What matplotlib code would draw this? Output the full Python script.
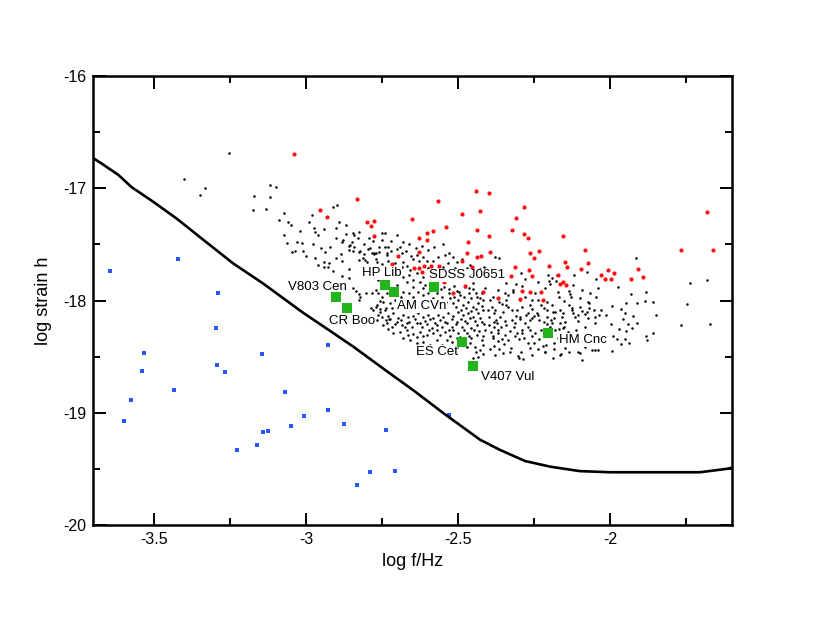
import matplotlib
matplotlib.use("Agg")
import matplotlib.pyplot as plt
from matplotlib.ticker import MultipleLocator, FuncFormatter

plt.rcParams['font.family'] = ['Liberation Sans', 'DejaVu Sans']
plt.rcParams['axes.unicode_minus'] = False

# sensitivity curve
curve_x = [-3.70, -3.666, -3.617, -3.573, -3.502, -3.425, -3.337, -3.239, -3.14, -3.009,
           -2.943, -2.845, -2.724, -2.647, -2.55, -2.428, -2.363, -2.28, -2.198, -2.1,
           -2.0, -1.705, -1.618, -1.6]
curve_y = [-16.73, -16.79, -16.88, -16.99, -17.12, -17.27, -17.46, -17.67, -17.85, -18.11,
           -18.23, -18.41, -18.65, -18.80, -19.0, -19.24, -19.33, -19.43, -19.48, -19.52,
           -19.53, -19.53, -19.50, -19.49]

# blue squares
blue_x = [-3.645, -3.421, -3.288, -3.295, -3.531, -3.539, -3.291, -3.265, -3.145, -2.929,
          -3.435, -3.574, -3.597, -3.068, -3.005, -2.929, -3.049, -2.874, -3.140, -3.126,
          -2.736, -3.227, -3.161, -2.790, -2.831, -2.707, -2.530]
blue_y = [-17.734, -17.630, -17.935, -18.247, -18.470, -18.627, -18.576, -18.635, -18.478, -18.396,
          -18.794, -18.889, -19.070, -18.817, -19.028, -18.977, -19.114, -19.096, -19.173, -19.164,
          -19.155, -19.328, -19.283, -19.529, -19.642, -19.518, -19.019]

# red dots
red_x = [-3.039, -2.831, -2.953, -2.932, -2.798, -2.775, -2.785, -2.777, -2.651, -2.567,
         -2.442, -2.398, -2.487, -2.429, -2.438, -2.400, -2.309, -2.323, -2.540, -2.601,
         -2.583, -2.629, -2.601, -2.467, -2.470, -2.395, -2.438, -2.424, -2.487, -2.629,
         -2.697, -2.716, -2.645, -2.630, -2.613, -2.589, -2.564, -2.454, -2.312, -2.620,
         -2.326, -2.477, -2.417, -2.516, -2.370, -2.545,
         -2.283, -2.283, -2.269, -2.156, -2.263, -2.251, -2.233, -2.083, -2.267, -2.257,
         -2.200, -2.150, -2.141, -2.095, -2.074, -2.173, -2.156, -2.164, -2.144, -2.032,
         -2.006, -1.988, -1.999, -2.017, -1.933, -1.909, -1.891, -2.228, -2.222, -2.290,
         -2.296, -2.263, -1.767, -1.683, -1.661]
red_y = [-16.692, -17.096, -17.196, -17.259, -17.303, -17.294, -17.336, -17.425, -17.274, -17.116,
         -17.025, -17.045, -17.229, -17.199, -17.372, -17.423, -17.267, -17.372, -17.348, -17.396,
         -17.378, -17.443, -17.461, -17.481, -17.574, -17.565, -17.614, -17.602, -17.645, -17.565,
         -17.601, -17.677, -17.713, -17.713, -17.692, -17.689, -17.689, -17.698, -17.704, -17.743,
         -17.784, -17.868, -17.926, -17.930, -17.975, -17.835,
         -17.167, -17.405, -17.443, -17.423, -17.577, -17.619, -17.559, -17.553, -17.728, -17.781,
         -17.692, -17.659, -17.704, -17.722, -17.669, -17.770, -17.835, -17.855, -17.864, -17.770,
         -17.728, -17.752, -17.806, -17.811, -17.806, -17.722, -17.787, -17.924, -17.995, -17.912,
         -17.983, -17.924, -17.553, -17.214, -17.548]

# black dots (simulated population)
cloud_x = [
    -3.252, -3.400, -3.332, -3.348, -3.118, -3.098, -3.170, -3.117, -3.175, -3.132,
    -3.073, -3.060, -2.912, -2.979, -3.072, -3.062, -3.029, -3.012, -3.045, -3.037,
    -2.975, -2.970, -2.976, -2.951, -2.936, -3.000, -2.892, -2.902, -2.902, -2.882,
    -2.867, -2.846, -2.856, -2.885, -2.845, -2.827, -2.810, -2.796, -2.784, -2.770,
    -2.792, -2.741, -2.731, -2.735, -2.690, -2.899,
    -2.960, -2.940, -2.923, -2.926, -2.857, -2.844, -2.836, -2.825, -2.824, -2.803,
    -2.785, -2.825, -2.737, -2.726, -2.770, -2.757, -2.739, -2.764, -2.757,
    -2.858, -2.860, -2.843, -2.823, -2.814, -2.825, -2.805, -2.791, -2.776, -2.770, -2.749,
    -2.775, -2.759, -2.740, -2.735, -2.722, -2.700, -2.686, -2.671, -2.656, -2.647,
    -2.636, -2.628, -2.614, -2.601, -2.768, -2.750, -2.729, -2.680, -2.667, -2.658,
    -2.686, -2.680, -2.669, -2.660, -2.649, -2.636, -2.625, -2.614, -2.609, -2.598,
    -2.582, -2.565, -2.543, -2.530, -2.516, -2.503, -2.487, -2.472, -2.461, -2.445,
    -2.428, -2.415, -2.549, -2.532, -2.557, -2.546, -2.529, -2.514, -2.503, -2.494,
    -2.477, -2.463, -2.450, -2.437, -2.423, -2.413, -2.784, -2.770, -2.751, -2.735,
    -2.746, -2.766, -2.779, -2.757, -2.737, -2.724, -2.707, -2.689, -2.680, -2.660,
    -2.647, -2.631, -2.614, -2.598, -2.582, -2.571, -2.554, -2.540, -2.527, -2.516,
    -2.499, -2.483, -2.466, -2.450, -2.434, -2.417, -2.768, -2.751, -2.729, -2.713,
    -2.696, -2.680, -2.664, -2.647, -2.631, -2.614, -2.598, -2.582, -2.565, -2.549,
    -2.532, -2.516, -2.499, -2.483, -2.466, -2.450, -2.434, -2.417, -2.735, -2.718,
    -2.702, -2.686, -2.669, -2.653, -2.636, -2.620, -2.603, -2.587, -2.571, -2.554,
    -2.538, -2.521, -2.505, -2.488, -2.472, -2.456, -2.439, -2.423, -2.412, -2.691,
    -2.669, -2.647, -2.625, -2.603, -2.582, -2.560, -2.543, -2.527, -2.472, -2.456,
    -2.439, -2.423, -2.461, -2.445, -2.428, -2.417, -2.434, -2.521, -2.538, -2.483,
    -2.658, -2.614, -2.571, -2.593, -2.636, -2.554, -2.505, -2.494,
    -2.379, -2.367, -1.915, -1.681, -1.737, -1.747, -1.768, -1.672,
    -1.976, -1.933, -1.884, -1.993, -1.949, -1.913, -1.885, -1.858, -1.966, -1.951,
    -1.849, -2.014, -1.959, -1.926, -1.998, -1.940, -1.911, -1.972, -1.949, -1.927,
    -1.860, -1.883, -1.880, -1.990, -1.979, -1.952, -1.938, -1.965, -1.994,
    -2.294, -2.279, -2.205, -2.202, -2.193, -2.119, -2.047, -2.397, -2.361, -2.344,
    -2.311, -2.290, -2.320, -2.215, -2.199, -2.178, -2.136, -2.132, -2.129, -2.170,
    -2.151, -2.100, -2.074, -2.069, -2.047,
    -2.101, -2.093, -2.083, -2.077, -2.071, -2.055, -2.050, -2.036, -2.029,
    -2.135, -2.126, -2.123, -2.115, -2.107, -2.164, -2.158, -2.164, -2.153, -2.169,
    -2.188, -2.186, -2.195, -2.199, -2.180, -2.226, -2.217, -2.209, -2.240, -2.251,
    -2.233, -2.219, -2.209, -2.264, -2.257, -2.269, -2.276, -2.265, -2.281, -2.271,
    -2.290, -2.295, -2.291, -2.306, -2.311, -2.298, -2.324, -2.315, -2.328, -2.306,
    -2.346, -2.342, -2.355, -2.366, -2.336, -2.351, -2.362, -2.345, -2.375, -2.358,
    -2.382, -2.369, -2.393, -2.394, -2.387, -2.403, -2.383, -2.397, -2.381,
    -2.386, -2.370, -2.355, -2.348, -2.335, -2.381, -2.394, -2.364, -2.326, -2.313,
    -2.299, -2.285, -2.271, -2.257, -2.250, -2.233, -2.222, -2.263, -2.294, -2.302,
    -2.288, -2.239, -2.210, -2.186, -2.171, -2.156, -2.140, -2.116, -2.123, -2.096,
    -2.085, -2.074, -2.055, -2.036, -2.107, -2.162, -2.098, -2.184, -2.188,
    -2.094, -2.165, -2.299, -2.215, -2.039, -2.050, -2.136,
    -2.529, -2.514, -2.496, -2.481, -2.465, -2.441, -2.428, -2.456, -2.507, -2.492,
    -2.474, -2.459, -2.441, -2.423, -2.521, -2.507, -2.492, -2.476, -2.461, -2.445,
    -2.428, -2.415, -2.516, -2.499, -2.481, -2.463, -2.448, -2.430, -2.417, -2.505,
    -2.472, -2.441, -2.419, -2.450, -2.724, -2.707, -2.689, -2.675, -2.660, -2.642,
    -2.625, -2.609, -2.593, -2.576, -2.560, -2.543, -2.529, -2.571, -2.595, -2.614,
    -2.636, -2.664, -2.680, -2.713, -2.729, -2.748, -2.762, -2.718, -2.696, -2.669,
    -2.647, -2.625, -2.603, -2.587, -2.571, -2.554, -2.669, -2.636, -2.609, -2.582,
    -2.614, -2.647, -2.702, -2.724, -2.746, -2.762, -2.779, -2.751, -2.724, -2.707,
    -2.693, -2.582, -2.565, -2.554, -2.527, -2.510, -2.494, -2.516, -2.483, -2.461,
    -2.439, -2.419, -2.450,
    -2.384, -2.368, -2.335, -2.319, -2.280, -2.258, -2.247, -2.236, -2.209, -2.193,
    -2.182, -2.154, -2.125, -2.105, -2.072, -2.050, -2.083, -2.111, -2.138, -2.154,
    -2.198, -2.226, -2.247, -2.264, -2.291, -2.346, -2.368, -2.384, -2.399, -2.373,
    -2.344, -2.313, -2.297, -2.258, -2.236, -2.209, -2.193, -2.149, -2.330, -2.351,
    -2.379, -2.258, -2.215, -2.149, -2.083, -2.061, -2.341, -2.379, -2.324, -2.171,
    -2.121, -2.094, -2.067, -2.039, -2.176, -2.078, -2.236,
    -2.99, -2.96, -2.94, -2.92, -2.90, -2.88, -2.87, -2.85, -2.83, -2.81,
    -2.80, -2.78, -2.76, -2.75, -2.72, -2.70, -2.68, -2.66, -2.64, -2.62,
    -2.60, -2.58, -2.55, -3.02, -3.05, -3.09, -3.01, -2.97, -2.94, -2.91,
    -2.88, -2.86, -2.877, -2.843, -2.825]
cloud_y = [
    -16.686, -16.920, -16.995, -17.057, -16.968, -16.986, -17.069, -17.078, -17.196, -17.184,
    -17.217, -17.302, -17.163, -17.240, -17.413, -17.490, -17.475, -17.490, -17.569, -17.563,
    -17.355, -17.391, -17.499, -17.532, -17.569, -17.605, -17.299, -17.353, -17.439, -17.479,
    -17.404, -17.395, -17.502, -17.585, -17.561, -17.570, -17.584, -17.545, -17.575, -17.575,
    -17.443, -17.399, -17.519, -17.575, -17.521, -17.146,
    -17.683, -17.657, -17.666, -17.704, -17.800, -17.886, -17.915, -17.944, -17.968, -17.935,
    -18.064, -17.995, -18.173, -18.167, -18.054, -18.077, -18.083, -17.935, -18.004,
    -17.515, -17.550, -17.521, -17.557, -17.620, -17.641, -17.635, -17.530, -17.575, -17.628, -17.400,
    -17.585, -17.568, -17.526, -17.594, -17.556, -17.544, -17.574, -17.556, -17.603, -17.633,
    -17.594, -17.645, -17.615, -17.645, -17.654, -17.675, -17.645, -17.657, -17.692, -17.728,
    -17.704, -17.787, -17.832, -17.772, -17.817, -17.758, -17.832, -17.787, -17.861, -17.713,
    -17.645, -17.609, -17.594, -17.580, -17.615, -17.657, -17.633, -17.713, -17.683, -17.752,
    -17.722, -17.698, -17.698, -17.669, -17.900, -17.876, -17.894, -17.870, -17.912, -17.951,
    -17.882, -17.936, -17.900, -17.965, -17.936, -17.891, -17.936, -17.906, -17.965, -17.936,
    -18.010, -18.040, -18.084, -18.099, -18.069, -18.025, -17.995, -17.965, -17.921, -17.936,
    -17.965, -17.921, -17.951, -17.936, -17.980, -17.936, -17.965, -18.010, -17.980, -18.025,
    -17.995, -18.040, -18.010, -18.054, -18.025, -17.995, -18.173, -18.143, -18.137, -18.114,
    -18.158, -18.129, -18.149, -18.137, -18.114, -18.149, -18.129, -18.158, -18.129, -18.149,
    -18.114, -18.137, -18.099, -18.129, -18.108, -18.143, -18.114, -18.084, -18.203, -18.233,
    -18.188, -18.218, -18.203, -18.238, -18.197, -18.233, -18.209, -18.247, -18.218, -18.238,
    -18.203, -18.233, -18.188, -18.233, -18.203, -18.247, -18.218, -18.188, -18.262, -18.277,
    -18.262, -18.298, -18.277, -18.307, -18.286, -18.307, -18.277, -18.316, -18.292, -18.336,
    -18.307, -18.351, -18.381, -18.411, -18.440, -18.396, -18.500, -18.366, -18.351, -18.366,
    -18.351, -18.366, -18.351, -18.396, -18.381, -18.396, -18.411, -18.322,
    -17.616, -17.625, -17.625, -17.813, -17.841, -18.031, -18.215, -18.212,
    -17.882, -17.939, -17.924, -18.049, -18.019, -18.019, -18.001, -18.010, -18.078, -18.111,
    -18.128, -18.131, -18.161, -18.134, -18.208, -18.211, -18.197, -18.250, -18.268, -18.241,
    -18.291, -18.315, -18.348, -18.315, -18.345, -18.339, -18.378, -18.389, -18.446,
    -17.752, -17.811, -17.773, -17.826, -17.796, -17.773, -17.811, -17.820, -17.791, -17.841,
    -17.856, -17.874, -17.906, -17.891, -17.856, -17.830, -17.912, -17.945, -17.966, -17.971,
    -18.004, -17.977, -18.010, -18.019, -17.971,
    -18.055, -18.093, -18.120, -18.102, -18.069, -18.084, -18.144, -18.129, -18.084,
    -18.040, -18.069, -18.111, -18.150, -18.180, -18.084, -18.150, -18.203, -18.233, -18.250,
    -18.099, -18.158, -18.176, -18.233, -18.262, -18.040, -18.064, -18.087, -18.108, -18.138,
    -18.173, -18.194, -18.212, -18.040, -18.073, -18.108, -18.132, -18.173, -18.200, -18.233,
    -18.262, -17.995, -18.055, -18.084, -18.138, -18.167, -18.173, -18.233, -18.268, -18.292,
    -17.935, -17.995, -18.031, -18.010, -18.060, -18.099, -18.149, -18.180, -18.173, -18.233,
    -18.233, -18.262, -18.277, -17.995, -18.055, -18.084, -18.114, -18.150, -18.188,
    -18.331, -18.361, -18.340, -18.390, -18.354, -18.405, -18.429, -18.435, -18.420, -18.317,
    -18.346, -18.331, -18.375, -18.317, -18.375, -18.346, -18.405, -18.423, -18.459, -18.495,
    -18.518, -18.435, -18.393, -18.375, -18.334, -18.317, -18.361, -18.334, -18.399, -18.322,
    -18.352, -18.310, -18.358, -18.375, -18.459, -18.474, -18.471, -18.435, -18.512,
    -18.533, -18.488, -18.509, -18.459, -18.438, -18.441, -18.459,
    -17.936, -17.965, -17.921, -17.965, -17.891, -17.930, -17.980, -17.980, -18.054, -18.084,
    -18.069, -18.090, -18.078, -18.048, -18.167, -18.209, -18.167, -18.179, -18.158, -18.179,
    -18.158, -18.209, -18.262, -18.286, -18.262, -18.316, -18.262, -18.268, -18.316, -18.336,
    -18.411, -18.455, -18.476, -18.514, -18.167, -18.209, -18.173, -18.233, -18.188, -18.167,
    -18.203, -18.179, -18.167, -18.203, -18.173, -18.188, -18.262, -18.262, -18.262, -18.316,
    -18.328, -18.307, -18.336, -18.292, -18.256, -18.218, -18.129, -18.069, -18.048, -18.060,
    -18.040, -18.060, -18.040, -18.078, -18.048, -18.078, -18.010, -17.995, -18.010, -17.906,
    -17.891, -17.876, -17.861, -17.891, -17.861, -17.817, -17.772, -17.758, -17.713, -17.669,
    -17.758, -17.743, -17.787, -17.743, -17.743, -17.713, -17.758, -17.787, -17.802, -17.787,
    -17.817, -17.802, -17.846,
    -17.965, -17.906, -17.951, -17.921, -17.965, -17.995, -17.936, -17.995, -18.010, -18.040,
    -18.099, -18.114, -18.084, -18.129, -18.158, -18.203, -18.233, -18.262, -18.277, -18.247,
    -18.292, -18.262, -18.292, -18.262, -18.292, -18.307, -18.292, -18.316, -18.218, -18.203,
    -18.218, -18.203, -18.143, -18.158, -18.129, -18.143, -18.203, -18.188, -18.455, -18.470,
    -18.485, -18.485, -18.455, -18.425, -18.411, -18.440, -18.040, -18.084, -18.084, -17.921,
    -17.861, -17.906, -17.936, -17.891, -17.772, -17.743, -17.832,
    -17.30, -17.42, -17.36, -17.52, -17.62, -17.65, -17.33, -17.48, -17.44, -17.50,
    -17.66, -17.47, -17.52, -17.46, -17.47, -17.42, -17.48, -17.50, -17.53, -17.51,
    -17.55, -17.52, -17.50, -17.38, -17.33, -17.28, -17.56, -17.62, -17.70, -17.74,
    -17.78, -17.72, -17.460, -17.413, -17.389]

# named systems (green squares)
sys_names = ['V803 Cen', 'CR Boo', 'HP Lib', 'AM CVn', 'SDSS J0651', 'ES Cet', 'V407 Vul', 'HM Cnc']
sys_x = [-2.901, -2.866, -2.741, -2.711, -2.580, -2.488, -2.451, -2.205]
sys_y = [-17.968, -18.069, -17.859, -17.926, -17.880, -18.370, -18.580, -18.290]

fig = plt.figure(figsize=(8.17, 6.32), dpi=100)
ax = fig.add_axes([0.1138, 0.1693, 0.7821, 0.7104])

ax.plot(cloud_x, cloud_y, 'o', color='black', markersize=1.8, markeredgewidth=0, zorder=2)
ax.plot(red_x, red_y, 'o', color='#ff0d0d', markersize=3.0, markeredgewidth=0, zorder=3)
ax.plot(blue_x, blue_y, 's', color='#2a55ff', markersize=3.3, markeredgewidth=0, zorder=3)
ax.plot(curve_x, curve_y, '-', color='black', linewidth=1.9, zorder=4)

# label offsets in points and alignment
lab_pos = {'V803 Cen': (8, 7, 'right'), 'CR Boo': (4, -9, 'center'),
           'HP Lib': (-2, 8.5, 'center'), 'AM CVn': (20, -10, 'center'),
           'SDSS J0651': (24, 8.5, 'center'), 'ES Cet': (-18, -7, 'center'),
           'V407 Vul': (6, -8.5, 'left'), 'HM Cnc': (8, -5, 'left')}
for name, sx, sy in zip(sys_names, sys_x, sys_y):
    dx, dy, ha = lab_pos[name]
    ax.annotate(name, (sx, sy), xytext=(dx, dy), textcoords='offset points',
                ha=ha, va='center', fontsize=9.5, zorder=5,
                bbox=dict(boxstyle='square,pad=0.05', fc='white', ec='none'))

ax.plot(sys_x, sys_y, 's', color='#22b41a', markersize=6.6, markeredgewidth=0, zorder=6)

ax.set_xlim(-3.7, -1.6)
ax.set_ylim(-20, -16)
ax.xaxis.set_major_locator(MultipleLocator(0.5))
ax.xaxis.set_minor_locator(MultipleLocator(0.25))
ax.yaxis.set_major_locator(MultipleLocator(1))
ax.yaxis.set_minor_locator(MultipleLocator(0.5))
fmt = FuncFormatter(lambda v, p: '%g' % v)
ax.xaxis.set_major_formatter(fmt)
ax.yaxis.set_major_formatter(fmt)
ax.tick_params(which='both', direction='in', top=True, right=True, width=1.4,
               labelsize=11.5, pad=5)
ax.tick_params(which='major', length=9)
ax.tick_params(which='minor', length=4.7)
for sp in ax.spines.values():
    sp.set_linewidth(1.8)

ax.set_xlabel('log f/Hz', fontsize=13, labelpad=4)
ax.set_ylabel('log strain h', fontsize=13, labelpad=8)

fig.savefig('out.png', dpi=100)
